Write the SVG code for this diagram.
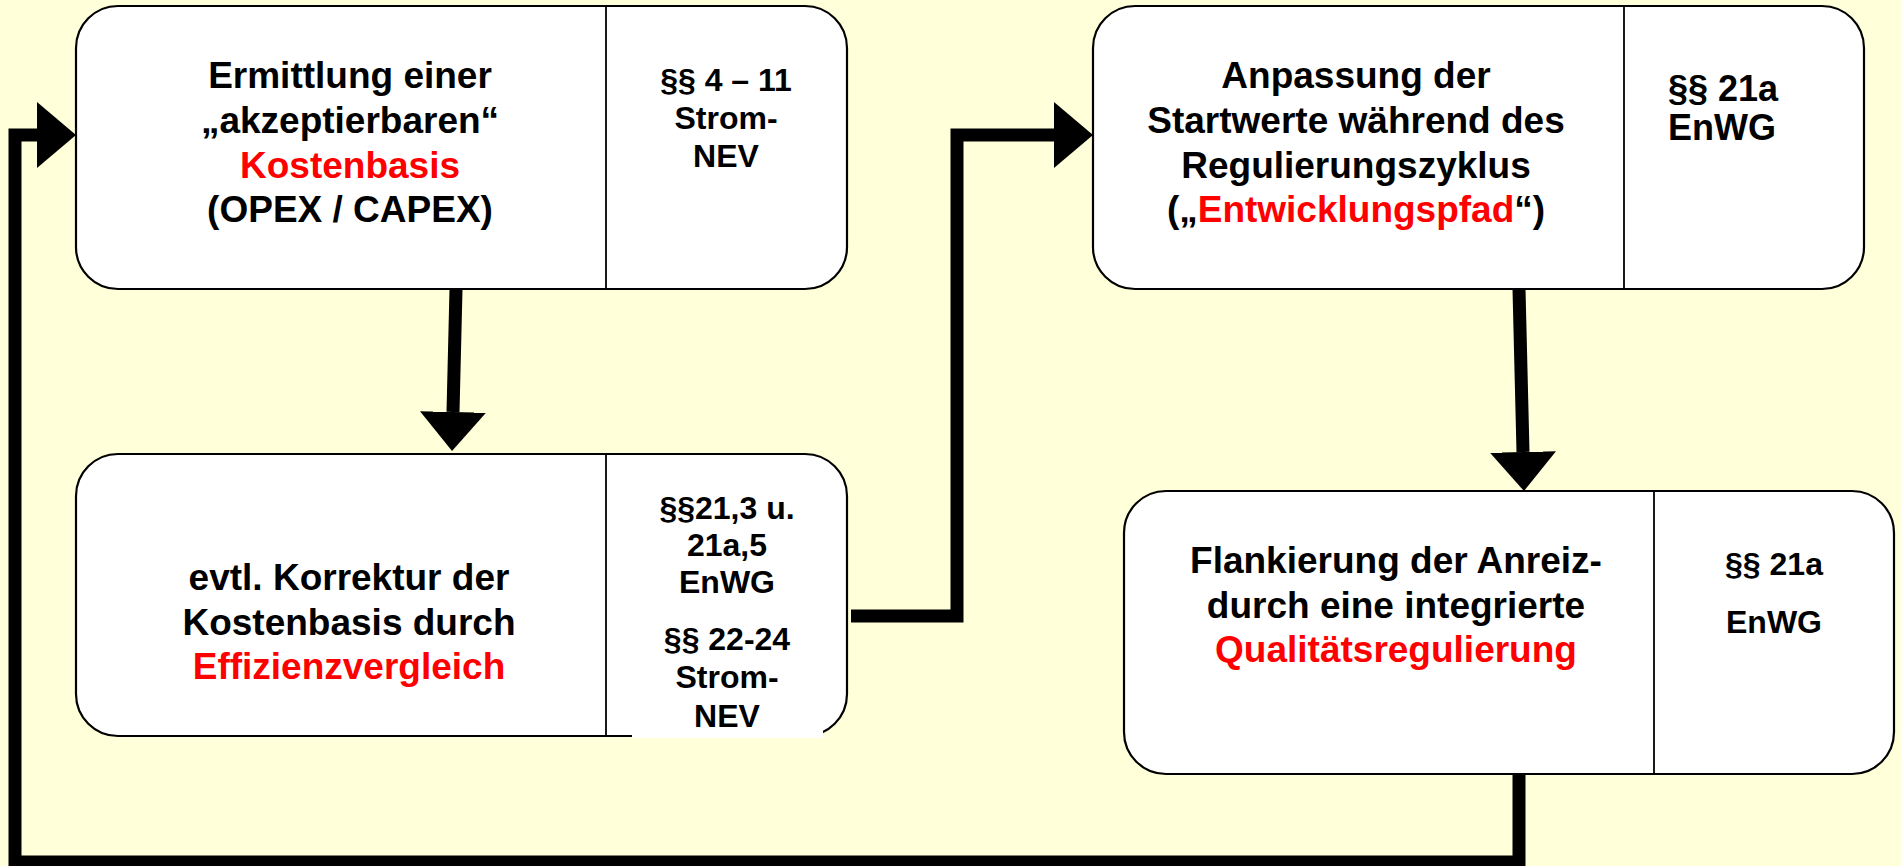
<svg xmlns="http://www.w3.org/2000/svg" width="1901" height="866" viewBox="0 0 1901 866">
<style>
.box{fill:#fff;stroke:#000;stroke-width:2.2}
.div{stroke:#000;stroke-width:1.8}
.t{font-family:"Liberation Sans",Arial,sans-serif;font-weight:bold;fill:#000}
.big{font-size:37px}
.sm{font-size:32px}
.mid{font-size:36px}
.c{text-anchor:middle}
.red{fill:#ff0000}
.con{fill:none;stroke:#000;stroke-width:13;stroke-linejoin:miter}
</style>
<defs>
<marker id="ah" viewBox="0 0 39 66" refX="0" refY="33" markerWidth="39" markerHeight="66" markerUnits="userSpaceOnUse" orient="auto">
<path d="M0,0 L39,33 L0,66 Z" fill="#000"/>
</marker>
</defs>
<rect x="0" y="0" width="1901" height="866" fill="#FFFFD9"/>
<g id="node-kostenbasis">
<rect class="box" x="76" y="6" width="771" height="283" rx="42" ry="42"/>
<line class="div" x1="606" y1="6" x2="606" y2="289"/>
<text class="t big c" x="350" y="88">Ermittlung einer</text>
<text class="t big c" x="350" y="133">„akzeptierbaren“</text>
<text class="t big c red" x="350" y="178">Kostenbasis</text>
<text class="t big c" x="350" y="222">(OPEX / CAPEX)</text>
<text class="t sm c" x="726" y="91">§§ 4 – 11</text>
<text class="t sm c" x="726" y="129">Strom-</text>
<text class="t sm c" x="726" y="167">NEV</text>
</g>
<g id="node-effizienz">
<rect class="box" x="76" y="454" width="771" height="282" rx="42" ry="42"/>
<line class="div" x1="606" y1="454" x2="606" y2="736"/>
<rect x="632" y="730" width="191" height="8" fill="#fff"/>
<text class="t big c" x="349" y="590">evtl. Korrektur der</text>
<text class="t big c" x="349" y="635">Kostenbasis durch</text>
<text class="t big c red" x="349" y="679">Effizienzvergleich</text>
<text class="t sm c" x="727" y="519">§§21,3 u.</text>
<text class="t sm c" x="727" y="556">21a,5</text>
<text class="t sm c" x="727" y="593">EnWG</text>
<text class="t sm c" x="727" y="650">§§ 22-24</text>
<text class="t sm c" x="727" y="688">Strom-</text>
<text class="t sm c" x="727" y="727">NEV</text>
</g>
<g id="node-entwicklungspfad">
<rect class="box" x="1093" y="6" width="771" height="283" rx="42" ry="42"/>
<line class="div" x1="1624" y1="6" x2="1624" y2="289"/>
<text class="t big c" x="1356" y="88">Anpassung der</text>
<text class="t big c" x="1356" y="133">Startwerte während des</text>
<text class="t big c" x="1356" y="178">Regulierungszyklus</text>
<text class="t big c" x="1356" y="222">(„<tspan class="red">Entwicklungspfad</tspan>“)</text>
<text class="t mid" x="1668" y="101">§§ 21a</text>
<text class="t mid" x="1668" y="140">EnWG</text>
</g>
<g id="node-qualitaet">
<rect class="box" x="1124" y="491" width="770" height="283" rx="42" ry="42"/>
<line class="div" x1="1654" y1="491" x2="1654" y2="774"/>
<text class="t big c" x="1396" y="573">Flankierung der Anreiz-</text>
<text class="t big c" x="1396" y="618">durch eine integrierte</text>
<text class="t big c red" x="1396" y="662">Qualitätsregulierung</text>
<text class="t sm c" x="1774" y="575">§§ 21a</text>
<text class="t sm c" x="1774" y="633">EnWG</text>
</g>
<g id="connectors">
<line class="con" x1="456" y1="289" x2="453" y2="412" marker-end="url(#ah)"/>
<line class="con" x1="1519" y1="289" x2="1523" y2="452" marker-end="url(#ah)"/>
<polyline class="con" points="851,616 957,616 957,135 1054,135" marker-end="url(#ah)"/>
<polyline class="con" points="1519,774 1519,862 15,862 15,135 37,135" marker-end="url(#ah)"/>
</g>
</svg>
